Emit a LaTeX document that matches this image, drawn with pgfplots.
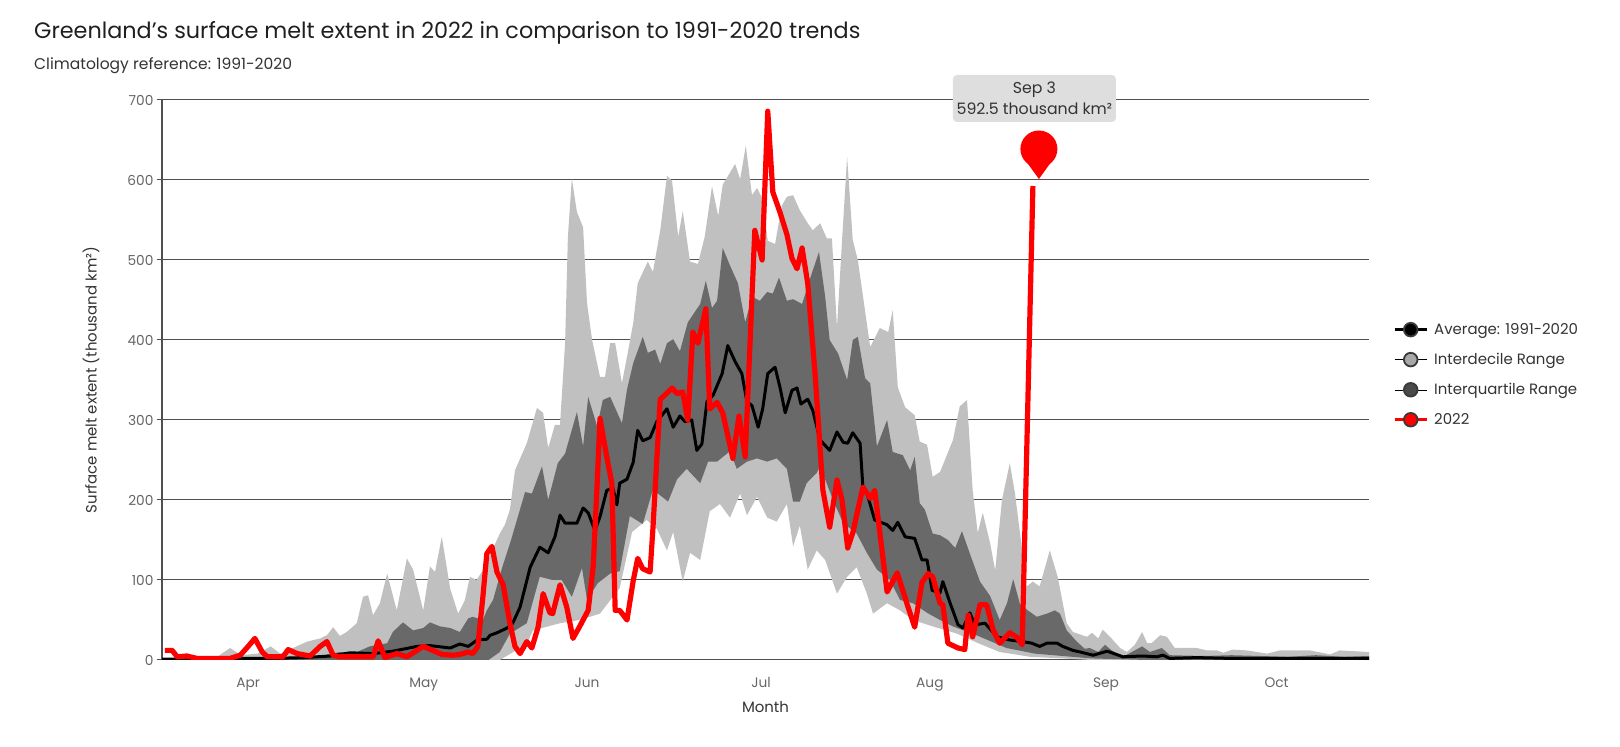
\documentclass[border=0pt]{standalone}
\usepackage{fontspec}
\setmainfont{Poppins}
\usepackage{pgfplots}
\pgfplotsset{compat=1.18}
\usepackage{pgfplotstable}
\usepgfplotslibrary{fillbetween}
\definecolor{lightband}{HTML}{C0C0C0}
\definecolor{darkband}{HTML}{696969}
\definecolor{gridc}{HTML}{505050}
\definecolor{tickc}{HTML}{666666}
\definecolor{labc}{HTML}{333333}
\definecolor{tipbg}{HTML}{DEDEDE}
\definecolor{lgidr}{HTML}{A8A8A8}
\definecolor{lgiqr}{HTML}{4A4A4A}
\definecolor{lgedge}{HTML}{3A3A3A}

% day index (0 = left edge of the plot), value in thousand km^2
\pgfplotstableread{
d v
0 1
5 1
10 1
15 2
20 2
25 3
30 5
33.4 9
37.5 8
41.0 11
45.3 17
47.6 18
51.2 15
52.9 20
54.4 17
56.0 25
57.7 26
58.3 31
59.5 34
61.3 40
62.3 46
63.6 66
65.4 116
67.1 141
68.6 134
69.8 154
70.7 181
71.6 171
73.7 171
74.8 190
75.7 184
76.9 162
77.8 179
79.0 212
80.1 215
80.8 194
81.3 221
82.6 226
83.7 247
84.5 287
85.4 274
86.7 278
87.9 298
89.7 314
90.8 291
92.0 305
92.9 298
94.1 300
95.0 262
95.9 270
96.8 323
97.9 331
99.5 358
100.5 393
101.8 373
103.0 358
103.9 323
104.8 318
105.9 291
106.7 314
107.6 358
108.9 366
109.8 340
110.7 309
111.9 337
112.8 340
113.5 320
114.7 326
115.6 312
116.9 275
118.6 262
119.9 285
121.0 272
121.8 271
122.7 284
124.0 271
124.5 216
125.2 209
126.6 175
128.8 169
129.8 162
130.7 172
132.0 154
133.7 152
135.0 125
135.9 125
136.8 87
138.2 84
138.7 98
140.0 71
141.4 44
142.3 40
143.5 59
144.4 44
146.2 46
148.3 29
150.6 25
152.9 23
154.5 21
155.9 17
157.2 21
159.0 21
160.0 17
161.8 12
163.1 10
165.4 6
167.9 11
170.7 4
174.1 5
176.7 4
177.8 6
179.0 2
183.8 3
189.7 2
214.4 2
}\meanT

\pgfplotstableread{
d v
0.5 12
1.8 12
2.7 4
4.4 5
6.2 2
12.1 2
13.9 6
15.3 17
16.5 27
17.8 10
18.7 4
21.5 4
22.4 13
24.0 8
26.3 5
28.1 17
29.3 23
30.4 6
31.6 4
37.5 4
38.4 24
39.6 3
41.7 8
43.5 4
46.4 17
48.1 12
49.7 7
51.7 6
52.9 7
54.4 10
55.2 8
56.1 17
57.0 79
57.7 133
58.6 142
59.5 110
60.6 94
61.8 46
62.7 17
63.6 8
64.8 23
65.7 15
66.8 41
67.7 83
68.9 59
69.4 58
70.7 94
71.9 66
73.0 27
74.2 42
75.7 62
76.6 117
77.3 221
77.8 302
79.0 254
79.9 221
80.5 62
81.3 62
82.6 50
83.7 99
84.5 127
85.4 114
86.7 110
87.2 164
88.5 326
89.3 331
90.6 340
91.5 333
92.5 335
93.4 300
94.3 410
95.2 396
96.6 439
97.3 314
98.6 322
99.6 309
101.4 252
102.5 305
103.6 254
105.3 537
106.6 500
107.6 686
108.5 585
109.8 559
111.0 532
111.9 502
112.8 489
113.7 515
114.7 471
116.0 358
117.4 212
118.6 166
119.9 225
120.8 200
121.8 140
122.7 159
124.5 216
125.8 202
126.6 212
128.8 85
130.6 109
132.3 71
133.7 41
135.0 97
136.1 108
136.9 104
138.2 71
138.7 69
139.6 21
141.4 15
142.6 13
143.2 56
144.0 29
145.3 69
146.5 69
147.6 38
148.8 21
150.6 34
151.9 28
152.8 19
154.7 592.5
}\yrT

\pgfplotstableread{
d v
0 2
5 3
10 5
12.1 15
14 6
17 8
19.3 17
21 8
25.8 23
28.1 27
29.3 31
30.4 41
31.6 30
32.8 35
34.6 46
35.7 79
36.6 81
37.5 56
38.7 71
40.0 108
41.7 62
43.5 127
44.6 113
46.4 62
47.6 117
48.5 110
49.7 154
51.2 89
52.6 58
53.8 75
54.7 104
55.9 100
56.8 110
57.9 125
60.0 158
60.9 169
61.8 188
62.7 237
64.8 271
66.6 315
67.7 309
68.6 265
69.8 294
70.7 294
71.6 396
72.1 529
72.8 602
73.7 560
74.8 541
75.5 446
76.4 400
77.8 354
78.7 354
79.6 396
80.5 396
81.7 346
82.6 379
83.7 421
84.5 471
86.3 498
87.2 485
88.5 537
89.7 605
90.6 599
91.7 529
92.5 561
93.8 498
95.2 495
96.4 529
97.7 592
98.8 555
99.6 594
101.8 620
102.7 601
103.7 643
104.8 581
105.7 590
106.7 576
107.6 524
108.9 520
110.1 568
111.0 579
112.1 581
113.3 562
114.7 546
115.6 537
116.9 546
118.1 527
119.0 527
119.9 416
120.8 525
121.7 629
122.7 525
123.6 500
125.8 391
127.5 415
129.0 410
129.8 437
130.7 341
132.0 316
133.7 306
134.6 273
135.9 269
136.9 229
138.2 235
140.5 275
141.7 317
143.0 325
144.0 212
144.9 159
145.8 184
147.1 146
148.0 112
149.2 200
150.6 246
151.5 209
153.6 92
154.7 98
155.9 92
157.7 137
159.1 104
160.7 46
161.8 35
164.3 29
165.2 34
166.3 27
167.1 38
168.4 29
170.2 15
171.4 10
172.8 19
174.1 35
175.0 21
175.8 21
177.3 31
178.5 29
179.9 15
183.8 15
185.6 12
187.4 12
188.5 9
190.2 13
192.7 12
196.3 8
198.6 12
203.9 12
207.5 7
209.2 12
214.4 10
}\pninety

\pgfplotstableread{
d v
0 0
60 0
64.8 20
65.9 37
70.7 46
74.2 50
77.8 58
81.3 90
83.5 160
86.1 175
87.9 164
89.7 137
90.8 160
92.5 98
93.8 134
95.6 125
97.3 186
99.1 195
100.9 178
102.7 208
103.9 181
105.7 204
107.5 178
109.2 173
111.0 195
112.1 142
113.3 168
114.7 113
116.3 137
117.8 125
119.9 83
121.7 104
123.4 116
125.2 83
126.3 58
128.8 71
131.1 62
133.4 50
136.9 42
141.2 33
145.3 20
148.8 10
154.2 4
160 2
165 0
214.4 0
}\pten

\pgfplotstableread{
d v
0 0
20 1
25 3
28 5
31.6 10
34 8
36.9 17
40.0 21
41.0 35
42.8 47
44.6 37
46.4 40
47.6 47
49.4 42
51.2 40
52.9 35
54.4 52
55.2 54
57.0 50
57.7 62
58.8 75
60.4 115
62.0 150
64.5 210
65.7 208
67.5 242
68.6 200
70.3 246
71.6 258
73.7 310
74.8 267
75.7 329
77.3 292
78.3 325
79.6 329
81.7 296
82.6 338
83.7 371
85.4 404
86.3 384
87.6 388
88.5 370
89.7 396
90.8 401
92.0 386
93.4 422
95.6 445
96.6 474
97.7 440
98.6 449
99.6 515
100.9 493
102.3 471
103.6 422
104.8 454
106.2 449
107.5 460
108.5 458
109.6 478
111.0 449
112.1 451
113.7 445
115.5 485
116.7 510
117.8 454
118.6 400
120.1 383
121.7 350
122.7 400
123.6 404
124.9 352
125.8 346
127.0 267
128.8 300
129.8 260
131.6 256
132.9 237
133.7 254
134.6 196
135.5 188
136.9 158
138.2 156
139.6 150
140.9 140
142.1 161
143.5 133
145.3 98
147.1 80
148.8 50
150.1 71
151.2 101
152.4 70
153.8 62
155.4 54
157.2 58
158.6 62
159.5 58
160.7 37
162.5 23
163.9 14
164.8 15
166.3 10
167.5 19
168.7 12
170.7 4
174.1 17
175.5 10
177.6 15
179.0 6
185 5
190 6
195 5
200 4
205 6
210 4
214.4 5
}\pseventyfive

\pgfplotstableread{
d v
0 0
58 0
60 10
61.8 33
64.8 46
67.1 104
69.4 100
71.0 100
72.8 79
74.6 115
75.5 75
77.4 96
79.6 108
81.3 111
83.1 180
85.4 170
87.2 213
89.9 198
91.5 226
93.2 239
95.6 221
97.0 248
98.6 248
100.9 261
102.1 239
103.9 248
105.7 252
107.5 248
109.2 252
111.0 239
112.1 198
113.3 198
114.5 221
116.3 234
116.9 242
119.2 200
121.0 171
123.4 158
125.2 134
127.0 113
129.3 100
131.1 75
133.4 71
135.9 59
138.2 50
140.5 42
145 30
150 15
155 8
160 5
165 2
170 1
175 0
214.4 0
}\ptwentyfive

\begin{document}
\begin{tikzpicture}[x=1bp,y=1bp]
\node[anchor=west, inner sep=0pt, font=\fontsize{22.4}{26}\selectfont, text=black!88] at (-128,627) {Greenland's surface melt extent in 2022 in comparison to 1991-2020 trends};
\node[anchor=west, inner sep=0pt, font=\fontsize{15.6}{18}\selectfont, text=labc] at (-128,594) {Climatology reference: 1991-2020};
\begin{axis}[
  set layers,
  scale only axis, width=1207bp, height=560bp,
  xmin=0, xmax=214.4, ymin=0, ymax=700,
  axis x line*=bottom, axis y line*=left,
  axis line style={gridc, line width=1bp, -},
  ymajorgrids, grid style={gridc, line width=1bp},
  ytick={0,100,...,700},
  xtick={15.3,46.5,75.5,106.4,136.4,167.7,198.0},
  xticklabels={Apr,May,Jun,Jul,Aug,Sep,Oct},
  x tick style={draw=none},
  y tick style={gridc, line width=1bp},
  tick align=outside, major tick length=5bp,
  ticklabel style={font=\fontsize{13.8}{16}\selectfont, text=tickc},
  xticklabel style={yshift=-9bp},
  /pgf/number format/assume math mode=true,
  xlabel={Month},
  ylabel={Surface melt extent (thousand km²)},
  label style={font=\fontsize{15}{18}\selectfont, text=labc},
  xlabel style={at={(axis description cs:0.5,0)}, anchor=center, yshift=-47bp},
  ylabel style={at={(axis description cs:-0.0588,0.5)}, anchor=center},
  no markers,
  legend cell align=left,
  legend style={at={(1.0199,0.605)}, anchor=north west, draw=none, fill=none,
    inner sep=0pt, font=\fontsize{15}{18}\selectfont, text=labc,
    row sep=13.3bp, column sep=4bp},
]
\addplot[name path=u90, draw=none, forget plot] table {\pninety};
\addplot[name path=l10, draw=none, forget plot] table {\pten};
\addplot[name path=u75, draw=none, forget plot] table {\pseventyfive};
\addplot[name path=l25, draw=none, forget plot] table {\ptwentyfive};
\addplot[fill=lightband, draw=none, forget plot, on layer=axis background] fill between[of=u90 and l10];
\addplot[fill=darkband, draw=none, forget plot, on layer=axis background] fill between[of=u75 and l25];
\addplot[black, line width=3bp, line join=round, forget plot] table {\meanT};
\addplot[red, line width=5.2bp, line join=round, forget plot] table {\yrT};
\coordinate (pk) at (axis cs:154.7,592.5);

\addlegendimage{legend image code/.code={
  \draw[black, line width=3bp] (0bp,0bp) -- (32bp,0bp);
  \filldraw[fill=black, draw=lgedge, line width=1.8bp] (16bp,0bp) circle (6.8bp);}}
\addlegendentry{Average: 1991-2020}
\addlegendimage{legend image code/.code={
  \path (0bp,0bp) -- (32bp,0bp);
  \filldraw[fill=lgidr, draw=lgedge, line width=1.8bp] (16bp,0bp) circle (6.8bp);}}
\addlegendentry{Interdecile Range}
\addlegendimage{legend image code/.code={
  \path (0bp,0bp) -- (32bp,0bp);
  \filldraw[fill=lgiqr, draw=lgedge, line width=1.8bp] (16bp,0bp) circle (6.8bp);}}
\addlegendentry{Interquartile Range}
\addlegendimage{legend image code/.code={
  \draw[red, line width=3bp] (0bp,0bp) -- (32bp,0bp);
  \filldraw[fill=red, draw=lgedge, line width=1.8bp] (16bp,0bp) circle (6.8bp);}}
\addlegendentry{2022}
\end{axis}
% pin marker and tooltip of the last 2022 value
\fill[red] ([xshift=6bp,yshift=37bp]pk) circle (18.5bp);
\fill[red] ([xshift=6bp,yshift=7bp]pk) -- ([xshift=-7bp,yshift=25bp]pk) -- ([xshift=19bp,yshift=25bp]pk) -- cycle;
\node[fill=tipbg, rounded corners=4bp, minimum width=163bp, minimum height=47bp,
  inner sep=0pt, align=center, font=\fontsize{15.8}{21}\selectfont, text=labc]
  at ([xshift=1.5bp,yshift=87.5bp]pk) {Sep 3\\592.5 thousand km²};
\path[use as bounding box] (-162,-87) rectangle (1458,660);
\end{tikzpicture}
\end{document}
